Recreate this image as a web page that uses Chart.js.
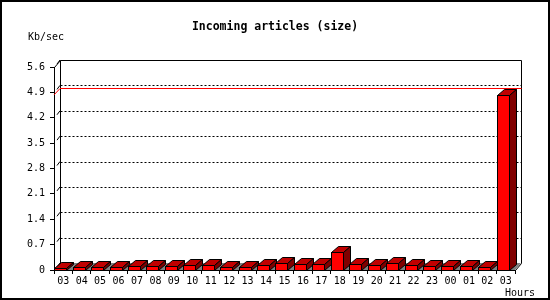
<!DOCTYPE html>
<html>
<head>
<meta charset="utf-8">
<script src="https://cdn.jsdelivr.net/npm/chart.js@4/dist/chart.umd.min.js"></script>
<style>
  body { margin: 0; background: #fff; }
  canvas { display: block; }
</style>
</head>
<body>
<canvas id="sizeChart" width="550" height="300"></canvas>
<script>
// hours of the day, starting at 03 and wrapping round to 03 again
const hours = ['03', '04', '05', '06', '07', '08', '09', '10', '11', '12', '13', '14', '15',
               '16', '17', '18', '19', '20', '21', '22', '23', '00', '01', '02', '03'];
// incoming article size, Kb/sec
const kbPerSec = [0.05, 0.075, 0.075, 0.075, 0.1, 0.1, 0.1, 0.13, 0.13, 0.09, 0.09, 0.13, 0.18,
                  0.16, 0.16, 0.5, 0.16, 0.13, 0.18, 0.14, 0.1, 0.1, 0.1, 0.07, 4.83];
const yTicks = [0, 0.7, 1.4, 2.1, 2.8, 3.5, 4.2, 4.9, 5.6];

const monoFont = '"DejaVu Sans Mono", "Liberation Mono", monospace';
const DX = 6, DY = 7;      // depth of the back wall
const BDX = 7, BDY = 6;    // depth of each bar

const px = v => Math.round(v) + 0.5;

const threeD = {
    id: 'threeD',
    beforeDraw(chart) {
        const c = chart.ctx;
        c.save();
        c.fillStyle = '#fff';
        c.fillRect(0, 0, chart.width, chart.height);
        c.strokeStyle = '#000';
        c.lineWidth = 2;
        c.strokeRect(1, 1, chart.width - 2, chart.height - 2);

        c.fillStyle = '#000';
        c.font = 'bold 11.5px ' + monoFont;
        c.textAlign = 'center';
        c.textBaseline = 'middle';
        c.fillText('Incoming articles (size)', 275, 27);
        c.font = '10px ' + monoFont;
        c.textAlign = 'left';
        c.fillText('Kb/sec', 28, 37);
        c.fillText('Hours', 505, 293);
        c.restore();
    },
    beforeDatasetsDraw(chart) {
        const c = chart.ctx;
        const a = chart.chartArea;
        const y = chart.scales.y;
        c.save();
        c.lineWidth = 1;

        // floor
        c.fillStyle = '#808080';
        c.beginPath();
        c.moveTo(a.left, a.bottom);
        c.lineTo(a.left + DX, a.bottom - DY);
        c.lineTo(a.right + DX, a.bottom - DY);
        c.lineTo(a.right, a.bottom);
        c.closePath();
        c.fill();

        // dotted grid on the back wall
        c.strokeStyle = '#000';
        c.setLineDash([2, 2]);
        yTicks.forEach(v => {
            if (v === 0 || v === y.max) return;
            const yy = px(y.getPixelForValue(v) - DY);
            c.beginPath();
            c.moveTo(px(a.left + DX), yy);
            c.lineTo(px(a.right + DX), yy);
            c.stroke();
        });
        c.setLineDash([]);

        // little slants from the front axis to the wall
        yTicks.forEach(v => {
            const yy = y.getPixelForValue(v);
            c.beginPath();
            c.moveTo(a.left + 3, yy - 3);
            c.lineTo(a.left + DX, yy - DY);
            c.stroke();
        });

        // back wall frame
        c.beginPath();
        c.moveTo(px(a.left), px(a.top));
        c.lineTo(px(a.left + DX), px(a.top - DY));
        c.lineTo(px(a.right + DX), px(a.top - DY));
        c.lineTo(px(a.right + DX), px(a.bottom - DY));
        c.lineTo(px(a.right), px(a.bottom));
        c.moveTo(px(a.left + DX), px(a.top - DY));
        c.lineTo(px(a.left + DX), px(a.bottom - DY));
        c.stroke();

        // red line at the maximum
        const yMax = y.getPixelForValue(Math.max(...kbPerSec));
        c.strokeStyle = '#ff0000';
        c.beginPath();
        c.moveTo(a.left, yMax);
        c.lineTo(a.left + DX, px(yMax - DY));
        c.lineTo(px(a.right + DX), px(yMax - DY));
        c.stroke();
        c.restore();
    },
    afterDatasetsDraw(chart) {
        const c = chart.ctx;
        c.save();
        c.lineWidth = 1;
        c.strokeStyle = '#000';
        chart.getDatasetMeta(0).data.forEach(bar => {
            const x0 = px(bar.x - (bar.width + BDX) / 2);
            const x1 = px(x0 + bar.width);
            const top = px(bar.y);
            const base = px(bar.base);

            c.fillStyle = '#ff0000';
            c.fillRect(x0, top, x1 - x0, base - top);
            c.strokeRect(x0, top, x1 - x0, base - top);

            c.fillStyle = '#c00000';
            c.beginPath();
            c.moveTo(x0, top);
            c.lineTo(x0 + BDX, top - BDY);
            c.lineTo(x1 + BDX, top - BDY);
            c.lineTo(x1, top);
            c.closePath();
            c.fill();
            c.stroke();

            c.fillStyle = '#800000';
            c.beginPath();
            c.moveTo(x1, top);
            c.lineTo(x1 + BDX, top - BDY);
            c.lineTo(x1 + BDX, base - BDY);
            c.lineTo(x1, base);
            c.closePath();
            c.fill();
            c.stroke();
        });
        c.restore();
    }
};

new Chart(document.getElementById('sizeChart'), {
    type: 'bar',
    data: {
        labels: hours,
        datasets: [{
            label: 'Incoming articles (size)',
            data: kbPerSec,
            backgroundColor: 'rgba(0,0,0,0)',
            borderWidth: 0,
            categoryPercentage: 1,
            barPercentage: 0.6
        }]
    },
    options: {
        responsive: false,
        animation: false,
        events: [],
        layout: { padding: { top: 67, right: 35, bottom: 0, left: 0 } },
        plugins: {
            legend: { display: false },
            tooltip: { enabled: false }
        },
        scales: {
            x: {
                offset: true,
                afterFit: s => { s.height = 30; },
                grid: { offset: true, drawOnChartArea: false, color: '#000', tickLength: 4 },
                border: { color: '#000' },
                ticks: { color: '#000', font: { family: monoFont, size: 10 }, padding: 1,
                         maxRotation: 0, autoSkip: false }
            },
            y: {
                min: 0,
                max: 5.6,
                afterFit: s => { s.width = 54; },
                afterBuildTicks: s => { s.ticks = yTicks.map(v => ({ value: v })); },
                grid: { drawOnChartArea: false, color: '#000', tickLength: 4 },
                border: { color: '#000' },
                ticks: { color: '#000', font: { family: monoFont, size: 10 }, padding: 5,
                         callback: v => v === 0 ? '0' : v.toFixed(1) }
            }
        }
    },
    plugins: [threeD]
});
</script>
</body>
</html>
